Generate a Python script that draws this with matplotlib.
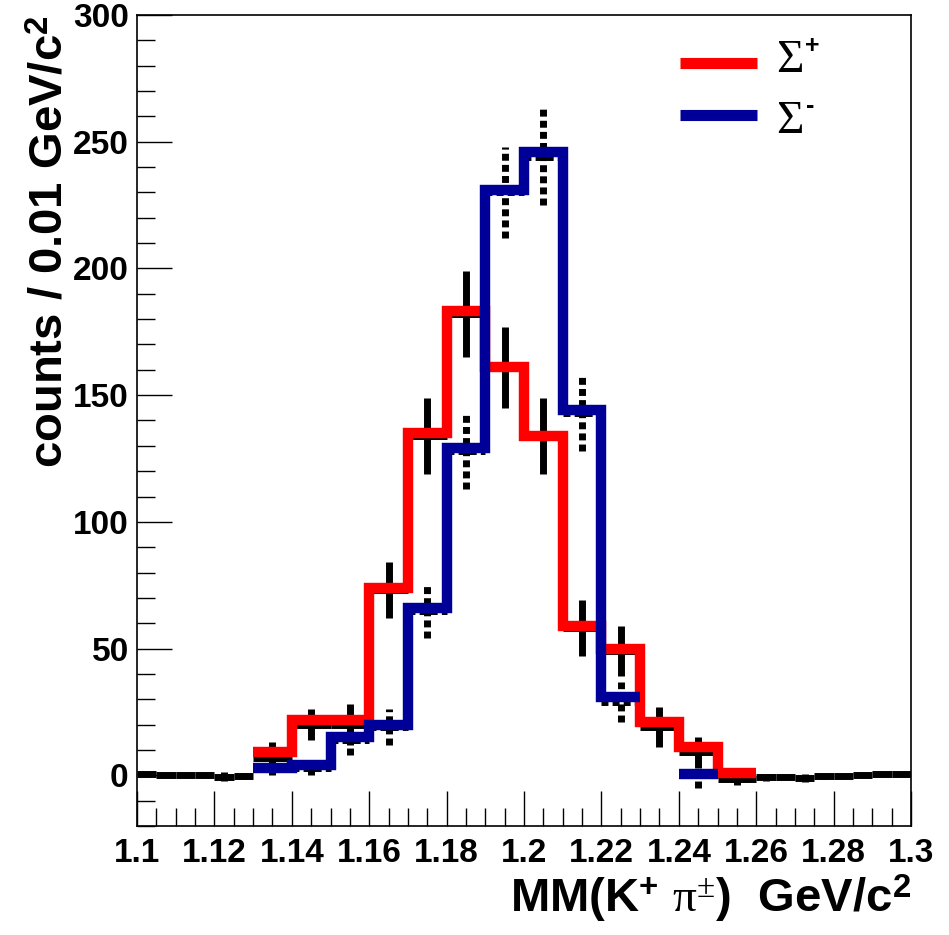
# Sigma+ / Sigma- missing mass spectrum, ROOT style
import numpy as np
import matplotlib.pyplot as plt
from matplotlib.ticker import MultipleLocator

plt.rcParams['font.family'] = ['Liberation Sans', 'DejaVu Sans']
plt.rcParams['mathtext.fontset'] = 'custom'
plt.rcParams['mathtext.rm'] = 'Liberation Serif:weight=normal'
plt.rcParams['mathtext.it'] = 'Liberation Serif:italic'
plt.rcParams['mathtext.bf'] = 'Liberation Sans:bold'

# template histograms (bin edges in GeV/c^2)
red_edges = [1.13, 1.14, 1.15, 1.16, 1.17, 1.18, 1.19, 1.20, 1.21, 1.22, 1.23, 1.24, 1.25, 1.26]
red_counts = [9, 22, 22, 74, 135, 183, 161, 134, 59, 50, 21, 11, 1]
blue_edges = [1.13, 1.14, 1.15, 1.16, 1.17, 1.18, 1.19, 1.20, 1.21, 1.22, 1.23, 1.24, 1.25]
blue_counts = [3, 4, 15, 20, 66, 129, 231, 246, 144, 31, np.nan, 0.5]

# measured points, Sigma+ (solid bars)
plus_x = [1.135, 1.145, 1.155, 1.165, 1.175, 1.185, 1.195, 1.205, 1.215, 1.225, 1.235, 1.245, 1.255]
plus_y = [7, 20, 20, 73, 134, 182, 161, 134, 58, 49, 19, 9, -1.5]
plus_err = [6, 6, 8, 11, 15, 17, 16, 15, 11, 10, 8, 6, 2.5]

# measured points, Sigma- (dotted bars)
minus_x = [1.135, 1.145, 1.155, 1.165, 1.175, 1.185, 1.195, 1.205, 1.215, 1.225, 1.245]
minus_y = [3, 3, 14, 19, 65, 128, 230, 244, 143, 29, 0]
minus_err = [3, 3, 6, 7, 11, 15, 18, 19, 15, 8, 5]

# side bands (fine bins, near zero)
side_x = [1.1025, 1.1075, 1.1125, 1.1175, 1.1225, 1.1275,
          1.2625, 1.2675, 1.2725, 1.2775, 1.2825, 1.2875, 1.2925, 1.2975]
side_y = [0.6, 0.3, 0.2, 0.1, -0.6, -0.3,
          -0.8, -0.5, -1.0, -0.4, -0.2, 0.2, 0.5, 0.4]
side_err = [0.8, 0.6, 0.8, 0.6, 1.8, 1.2,
            1.5, 0.8, 1.6, 1.0, 0.8, 0.6, 0.6, 0.8]

fig = plt.figure(figsize=(9.49, 9.35), dpi=100)
ax = fig.add_axes([0.1444, 0.1166, 0.8156, 0.8674])

# data
ax.errorbar(side_x, side_y, yerr=side_err, xerr=0.0025, fmt='none',
            ecolor='black', elinewidth=5, capsize=0, zorder=2)
ax.errorbar(plus_x, plus_y, yerr=plus_err, xerr=0.005, fmt='none',
            ecolor='black', elinewidth=5, capsize=0, zorder=2)
eb = ax.errorbar(minus_x, minus_y, yerr=minus_err, xerr=0.005, fmt='none',
                 ecolor='black', elinewidth=5, capsize=0, zorder=2)
for lc in eb[2]:
    lc.set_linestyle((0, (1, 0.6)))
    lc.set_capstyle('butt')

# templates
ax.step(red_edges, red_counts + [red_counts[-1]], where='post', color='#ff0000',
        lw=7.5, solid_joinstyle='miter', solid_capstyle='butt', zorder=3)
ax.step(blue_edges, blue_counts + [blue_counts[-1]], where='post', color='#000099',
        lw=7.5, solid_joinstyle='miter', solid_capstyle='butt', zorder=3)

# legend
ax.plot([0.702, 0.801], [0.941, 0.941], transform=ax.transAxes, color='#ff0000', lw=8,
        solid_capstyle='butt')
ax.plot([0.702, 0.801], [0.877, 0.877], transform=ax.transAxes, color='#000099', lw=8,
        solid_capstyle='butt')
ax.text(0.826, 0.943, 'Σ', transform=ax.transAxes, family='Liberation Serif',
        fontsize=34, va='center', ha='left')
ax.text(0.826, 0.868, 'Σ', transform=ax.transAxes, family='Liberation Serif',
        fontsize=34, va='center', ha='left')
ax.text(0.863, 0.962, '+', transform=ax.transAxes, fontsize=18, weight='bold',
        va='center', ha='left')
ax.text(0.864, 0.888, '-', transform=ax.transAxes, fontsize=18, weight='bold',
        va='center', ha='left')

ax.set_xlim(1.1, 1.3)
ax.set_ylim(-20, 300)
ax.set_xticks([1.1, 1.12, 1.14, 1.16, 1.18, 1.2, 1.22, 1.24, 1.26, 1.28, 1.3])
ax.set_xticklabels(['1.1', '1.12', '1.14', '1.16', '1.18', '1.2',
                    '1.22', '1.24', '1.26', '1.28', '1.3'], fontweight='bold')
ax.set_yticks([0, 50, 100, 150, 200, 250, 300])
ax.set_yticklabels(['0', '50', '100', '150', '200', '250', '300'], fontweight='bold')
ax.xaxis.set_minor_locator(MultipleLocator(0.005))
ax.yaxis.set_minor_locator(MultipleLocator(10))
ax.tick_params(which='both', direction='in', top=False, right=False, width=1)
ax.tick_params(which='major', length=25, labelsize=24)
ax.tick_params(axis='x', which='major', pad=9)
ax.tick_params(axis='y', which='major', pad=6)
ax.tick_params(which='minor', length=13)
for s in ax.spines.values():
    s.set_linewidth(1.2)

ax.set_xlabel(r'MM(K$^{\mathbf{+}}$ $\mathrm{\pi}^{\pm}$)  GeV/c$^{\mathbf{2}}$',
              fontsize=34, fontweight='bold', loc='right', labelpad=2)
ax.set_ylabel(r'counts / 0.01 GeV/c$^{\mathbf{2}}$', fontsize=34, fontweight='bold',
              loc='top', labelpad=0)

plt.savefig('out.png', dpi=100)
